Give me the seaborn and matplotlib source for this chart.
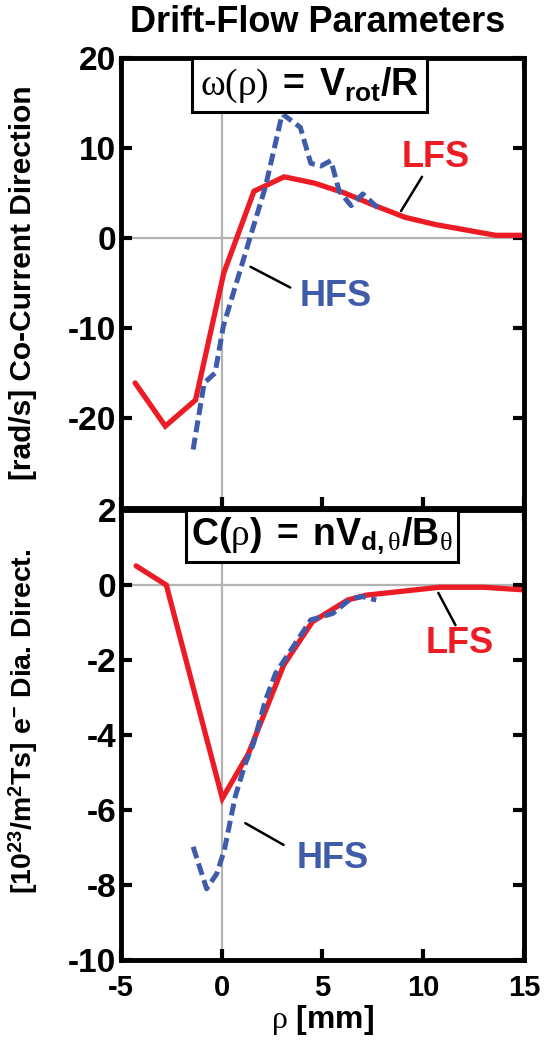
import numpy as np
import pandas as pd
import seaborn as sns
import matplotlib.pyplot as plt

# ------------------ DATA ------------------
# omega(rho) = V_rot / R   [rad/s]
w_lfs_x = [-4.3, -2.8, -1.3, 0.1, 1.6, 3.1, 4.6, 6.1, 7.6, 9.1, 10.6, 12.1, 13.6, 15.0]
w_lfs_y = [-16.1, -20.9, -18.0, -3.9, 5.2, 6.8, 6.1, 5.0, 3.6, 2.3, 1.5, 0.9, 0.3, 0.3]

w_hfs_x = [-1.42, -0.87, -0.33, 0.08, 1.17, 1.67, 2.17, 3.0, 3.9, 4.42, 4.92, 5.42, 5.83, 6.42, 7.0, 7.92]
w_hfs_y = [-23.5, -16.1, -15.0, -9.8, -1.7, 2.0, 5.7, 13.8, 12.3, 8.3, 8.0, 8.6, 5.2, 3.6, 4.9, 3.0]

# C(rho) = n V_d,theta / B_theta   [10^23 / m^2 T s]
c_lfs_x = [-4.25, -2.75, 0.03, 1.33, 3.08, 4.5, 6.25, 7.17, 10.8, 13.0, 15.0]
c_lfs_y = [0.51, 0.0, -5.69, -4.49, -2.13, -0.98, -0.4, -0.27, -0.06, -0.06, -0.13]

c_hfs_x = [-1.42, -0.75, -0.25, 0.13, 0.67, 1.17, 1.58, 2.17, 2.67, 3.33, 4.42, 5.5, 6.42, 7.0, 7.67]
c_hfs_y = [-6.98, -8.1, -7.7, -7.07, -5.64, -4.76, -4.22, -3.07, -2.36, -1.82, -0.93, -0.76, -0.36, -0.31, -0.4]

x_ticks = [-5, 0, 5, 10, 15]
w_ticks = [-20, -10, 0, 10, 20]
c_ticks = [-10, -8, -6, -4, -2, 0, 2]

RED = "#ED1C24"
BLUE = "#3F5CAA"

# ------------------ STYLE ------------------
sns.set_theme(style="white")
plt.rcParams["font.family"] = ["Liberation Sans", "DejaVu Sans"]
plt.rcParams["mathtext.fontset"] = "custom"
plt.rcParams["mathtext.rm"] = "Liberation Serif"
plt.rcParams["mathtext.it"] = "Liberation Serif:italic"
plt.rcParams["mathtext.bf"] = "Liberation Sans:bold"
plt.rcParams["mathtext.sf"] = "Liberation Sans:bold"
for k in ["text.color", "axes.labelcolor", "xtick.color", "ytick.color"]:
    plt.rcParams[k] = "black"

fig = plt.figure(figsize=(5.57, 10.49), dpi=100)
ax1 = fig.add_axes([0.2172, 0.5157, 0.7235, 0.429])
ax2 = fig.add_axes([0.2172, 0.0848, 0.7235, 0.429])


def draw(ax, lx, ly, hx, hy):
    ax.axvline(0, color="#b3b3b3", lw=1.6, zorder=0)
    ax.axhline(0, color="#b3b3b3", lw=1.6, zorder=0)
    sns.lineplot(x=lx, y=ly, ax=ax, color=RED, lw=3.8, sort=False,
                 estimator=None, solid_joinstyle="miter")
    sns.lineplot(x=hx, y=hy, ax=ax, color=BLUE, lw=3.6, sort=False,
                 estimator=None)
    ax.lines[-1].set_dashes((2.4, 1.1))
    ax.set_xlim(-5, 15)
    ax.set_xticks(x_ticks)
    for s in ax.spines.values():
        s.set_linewidth(3.5)
        s.set_color("black")
    ax.tick_params(direction="in", length=8, width=3, top=True, right=True,
                   bottom=True, left=True, color="black")


def tag(ax, text, color, txy, p0, p1):
    ax.plot([p0[0], p1[0]], [p0[1], p1[1]], color="black", lw=1.8)
    ax.text(txy[0], txy[1], text, color=color, fontsize=26, fontweight="bold",
            ha="center", va="center")


# ------------------ TOP PANEL ------------------
draw(ax1, w_lfs_x, w_lfs_y, w_hfs_x, w_hfs_y)
ax1.set_ylim(-30, 20)
ax1.set_yticks(w_ticks)
ax1.set_yticklabels([str(t) for t in w_ticks], fontsize=24, fontweight="bold")
ax1.set_xticklabels([])
ax1.set_ylabel("[rad/s] Co-Current Direction", fontsize=21.5, fontweight="bold")
ax1.yaxis.set_label_coords(-0.208, 0.5)
ax1.text(0.468, 0.94, r"$\mathrm{\omega(\rho)}\mathbf{\ =\ V_{rot}/R}$",
         transform=ax1.transAxes, ha="center", va="center", fontsize=27,
         bbox=dict(boxstyle="square,pad=0.2", fc="white", ec="black", lw=2.2))
tag(ax1, "LFS", RED, (10.6, 9.0), (9.94, 6.8), (8.9, 3.0))
tag(ax1, "HFS", BLUE, (5.65, -6.5), (1.43, -3.2), (3.4, -5.5))
fig.text(0.571, 0.979, "Drift-Flow Parameters", ha="center", va="center",
         fontsize=26, fontweight="bold")

# ------------------ BOTTOM PANEL ------------------
draw(ax2, c_lfs_x, c_lfs_y, c_hfs_x, c_hfs_y)
ax2.set_ylim(-10, 2)
ax2.set_yticks(c_ticks)
ax2.set_yticklabels([str(t) for t in c_ticks], fontsize=24, fontweight="bold")
ax2.set_xticklabels([str(t) for t in x_ticks], fontsize=21, fontweight="bold")
ax2.tick_params(axis="x", pad=10)
ax2.set_ylabel(r"[10$^{\mathbf{23}}$/m$^{\mathbf{2}}$Ts] e$^{\mathbf{-}}$ Dia. Direct.",
               fontsize=20.5, fontweight="bold")
ax2.yaxis.set_label_coords(-0.2, 0.53)
ax2.set_xlabel(r"$\mathrm{\rho}$ [mm]", fontsize=23, fontweight="bold", labelpad=1)
ax2.text(0.499, 0.942,
         r"$\mathbf{C(}\mathrm{\rho}\mathbf{)\ =\ nV}_{\mathbf{d,}\mathrm{\theta}}\mathbf{/B}_{\mathrm{\theta}}$",
         transform=ax2.transAxes, ha="center", va="center", fontsize=27,
         bbox=dict(boxstyle="square,pad=0.14", fc="white", ec="black", lw=2.2))
tag(ax2, "LFS", RED, (11.8, -1.55), (10.75, -0.21), (11.6, -1.07))
tag(ax2, "HFS", BLUE, (5.5, -7.28), (1.17, -6.35), (3.07, -6.93))

fig.savefig("out.png", dpi=100)
